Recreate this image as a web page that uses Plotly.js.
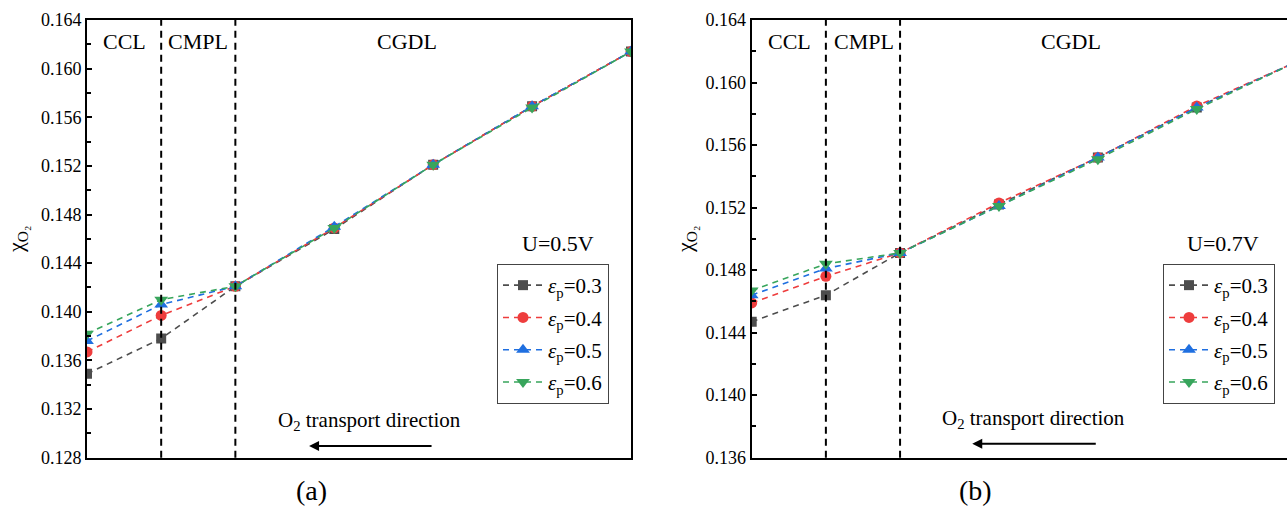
<!DOCTYPE html>
<html>
<head>
<meta charset="utf-8">
<script src="https://cdn.plot.ly/plotly-3.0.1.min.js"></script>
<style>
html,body{margin:0;padding:0;background:#fff;}
#chart{width:1287px;height:509px;}
</style>
</head>
<body>
<div id="chart"></div>
<script>
// Position across layers (arbitrary units: CCL | CMPL | CGDL)
var position = [0, 0.75, 1.5, 2.5, 3.5, 4.5, 5.5];
var seriesNames = ['<i>ε</i><sub>p</sub>=0.3', '<i>ε</i><sub>p</sub>=0.4', '<i>ε</i><sub>p</sub>=0.5', '<i>ε</i><sub>p</sub>=0.6'];
// (a) U = 0.5 V
var a_e03 = [0.1349, 0.1378, 0.1421, 0.1468, 0.1521, 0.1569, 0.1614];
var a_e04 = [0.1367, 0.1397, 0.1421, 0.1469, 0.1521, 0.1569, 0.1614];
var a_e05 = [0.1376, 0.1406, 0.1421, 0.1470, 0.1521, 0.1569, 0.1614];
var a_e06 = [0.1382, 0.1410, 0.1421, 0.1469, 0.1521, 0.1568, 0.1614];
// (b) U = 0.7 V
var b_e03 = [0.1447, 0.1464, 0.1491, 0.1522, 0.1552, 0.1584, 0.1613];
var b_e04 = [0.1459, 0.1476, 0.1491, 0.1523, 0.1552, 0.1585, 0.1613];
var b_e05 = [0.1464, 0.1481, 0.1491, 0.1521, 0.1552, 0.1584, 0.1613];
var b_e06 = [0.1467, 0.1484, 0.1491, 0.1521, 0.1551, 0.1583, 0.1613];
var layerBounds = [0.75, 1.5];
var yTicksA = [0.128, 0.132, 0.136, 0.140, 0.144, 0.148, 0.152, 0.156, 0.160, 0.164];
var yTicksB = [0.136, 0.140, 0.144, 0.148, 0.152, 0.156, 0.160, 0.164];

var colors = ['#4d4d4d', '#ee3d3d', '#1f6fe0', '#38a55c'];
var symbols = ['square', 'circle', 'triangle-up', 'triangle-down'];
var msizes = [10, 11, 12, 12];
var font = "'Liberation Serif', 'Times New Roman', serif";

var traces = [];
function addSet(ys, xa, ya, leg, pre) {
  ys.forEach(function(y, i) {
    traces.push({
      x: position, y: y, xaxis: xa, yaxis: ya, legend: leg, legendgroup: pre + i,
      type: 'scatter', mode: 'lines+markers', name: seriesNames[i],
      line: {color: colors[i], width: 1.6, dash: '6px,5px'},
      marker: {color: colors[i], symbol: symbols[i], size: msizes[i]},
      cliponaxis: true
    });
  });
}
addSet([a_e03, a_e04, a_e05, a_e06], 'x', 'y', 'legend', 'a');
addSet([b_e03, b_e04, b_e05, b_e06], 'x2', 'y2', 'legend2', 'b');

var W = 1287, H = 509;
var plotTop = 20, plotBot = 457.7;
var yDom = [(H - plotBot) / H, (H - plotTop) / H];
var pxPerUnit = 544 / 5.5;
var x2max = (W - 751.7) / pxPerUnit;

function yax(range, ticks, mirror) {
  return {
    range: range, tickvals: ticks, tickformat: '.3f',
    ticks: 'inside', ticklen: 5, tickwidth: 2, tickcolor: '#000',
    minor: {dtick: 0.002, tick0: 0.128, ticks: 'inside', ticklen: 4, tickwidth: 2, tickcolor: '#000', showgrid: false},
    showline: true, linecolor: '#000', linewidth: 2, mirror: mirror,
    showgrid: false, zeroline: false,
    tickfont: {family: font, size: 18, color: '#000'},
    domain: yDom, fixedrange: true
  };
}
function xax(range, dom, anchor) {
  return {
    range: range, domain: dom, anchor: anchor,
    showticklabels: false, ticks: '', showgrid: false, zeroline: false,
    showline: true, linecolor: '#000', linewidth: 2, mirror: true
  };
}

var shapes = [];
[['x', 'y domain'], ['x2', 'y2 domain']].forEach(function(r) {
  layerBounds.forEach(function(b) {
    shapes.push({type: 'line', xref: r[0], yref: r[1], x0: b, x1: b, y0: 0, y1: 1,
      line: {color: '#000', width: 2, dash: '7px,5px'}});
  });
});

var ann = [];
function txt(text, x, y, xref, yref, size) {
  ann.push({text: text, x: x, y: y, xref: xref, yref: yref, showarrow: false,
    font: {family: font, size: size || 22, color: '#000'}, xanchor: 'center', yanchor: 'middle'});
}
// layer labels
txt('CCL', 0.375, 0.95, 'x', 'y domain');
txt('CMPL', 1.125, 0.95, 'x', 'y domain');
txt('CGDL', 3.24, 0.95, 'x', 'y domain');
txt('CCL', 0.387, 0.95, 'x2', 'y2 domain');
txt('CMPL', 1.135, 0.95, 'x2', 'y2 domain');
txt('CGDL', 3.23, 0.95, 'x2', 'y2 domain');
txt('U=0.5V', 4.76, 0.49, 'x', 'y domain');
txt('U=0.7V', 4.765, 0.49, 'x2', 'y2 domain');
txt('O<sub>2</sub> transport direction', 2.86, 0.084, 'x', 'y domain', 21);
txt('O<sub>2</sub> transport direction', 2.845, 0.089, 'x2', 'y2 domain', 21);
// arrows
ann.push({text: '', x: 2.245, y: 0.027, xref: 'x', yref: 'y domain', showarrow: true,
  ax: 124, ay: 0, arrowhead: 2, arrowsize: 1, arrowwidth: 2, arrowcolor: '#000', standoff: 0});
ann.push({text: '', x: 2.23, y: 0.032, xref: 'x2', yref: 'y2 domain', showarrow: true,
  ax: 125, ay: 0, arrowhead: 2, arrowsize: 1, arrowwidth: 2, arrowcolor: '#000', standoff: 0});
// y titles
ann.push({text: 'χ<sub>O₂</sub>', x: 17 / W, y: (H - 240) / H, xref: 'paper', yref: 'paper', showarrow: false,
  textangle: -90, font: {family: font, size: 22, color: '#000'}, xanchor: 'center', yanchor: 'middle'});
ann.push({text: 'χ<sub>O₂</sub>', x: 686 / W, y: (H - 240) / H, xref: 'paper', yref: 'paper', showarrow: false,
  textangle: -90, font: {family: font, size: 22, color: '#000'}, xanchor: 'center', yanchor: 'middle'});
// panel labels
txt('(a)', 311 / W, (H - 490) / H, 'paper', 'paper', 28);
txt('(b)', 975 / W, (H - 490) / H, 'paper', 'paper', 28);

function leg(x) {
  return {x: x / W, y: (H - 264) / H, xanchor: 'left', yanchor: 'top',
    bgcolor: '#fff', bordercolor: '#444', borderwidth: 1,
    font: {family: font, size: 21, color: '#000'}, tracegroupgap: 2, itemwidth: 40};
}

var layout = {
  width: W, height: H,
  margin: {l: 0, r: 0, t: 0, b: 0},
  paper_bgcolor: '#fff', plot_bgcolor: '#fff',
  showlegend: true,
  xaxis: xax([0, 5.5], [87 / W, 631 / W], 'y'),
  yaxis: Object.assign(yax([0.128, 0.164], yTicksA, true), {anchor: 'x'}),
  xaxis2: xax([0, x2max], [751.7 / W, 1], 'y2'),
  yaxis2: Object.assign(yax([0.136, 0.164], yTicksB, false), {anchor: 'x2'}),
  legend: leg(497),
  legend2: leg(1163),
  shapes: shapes,
  annotations: ann
};

Plotly.newPlot('chart', traces, layout, {displayModeBar: false, staticPlot: true});
</script>
</body>
</html>
